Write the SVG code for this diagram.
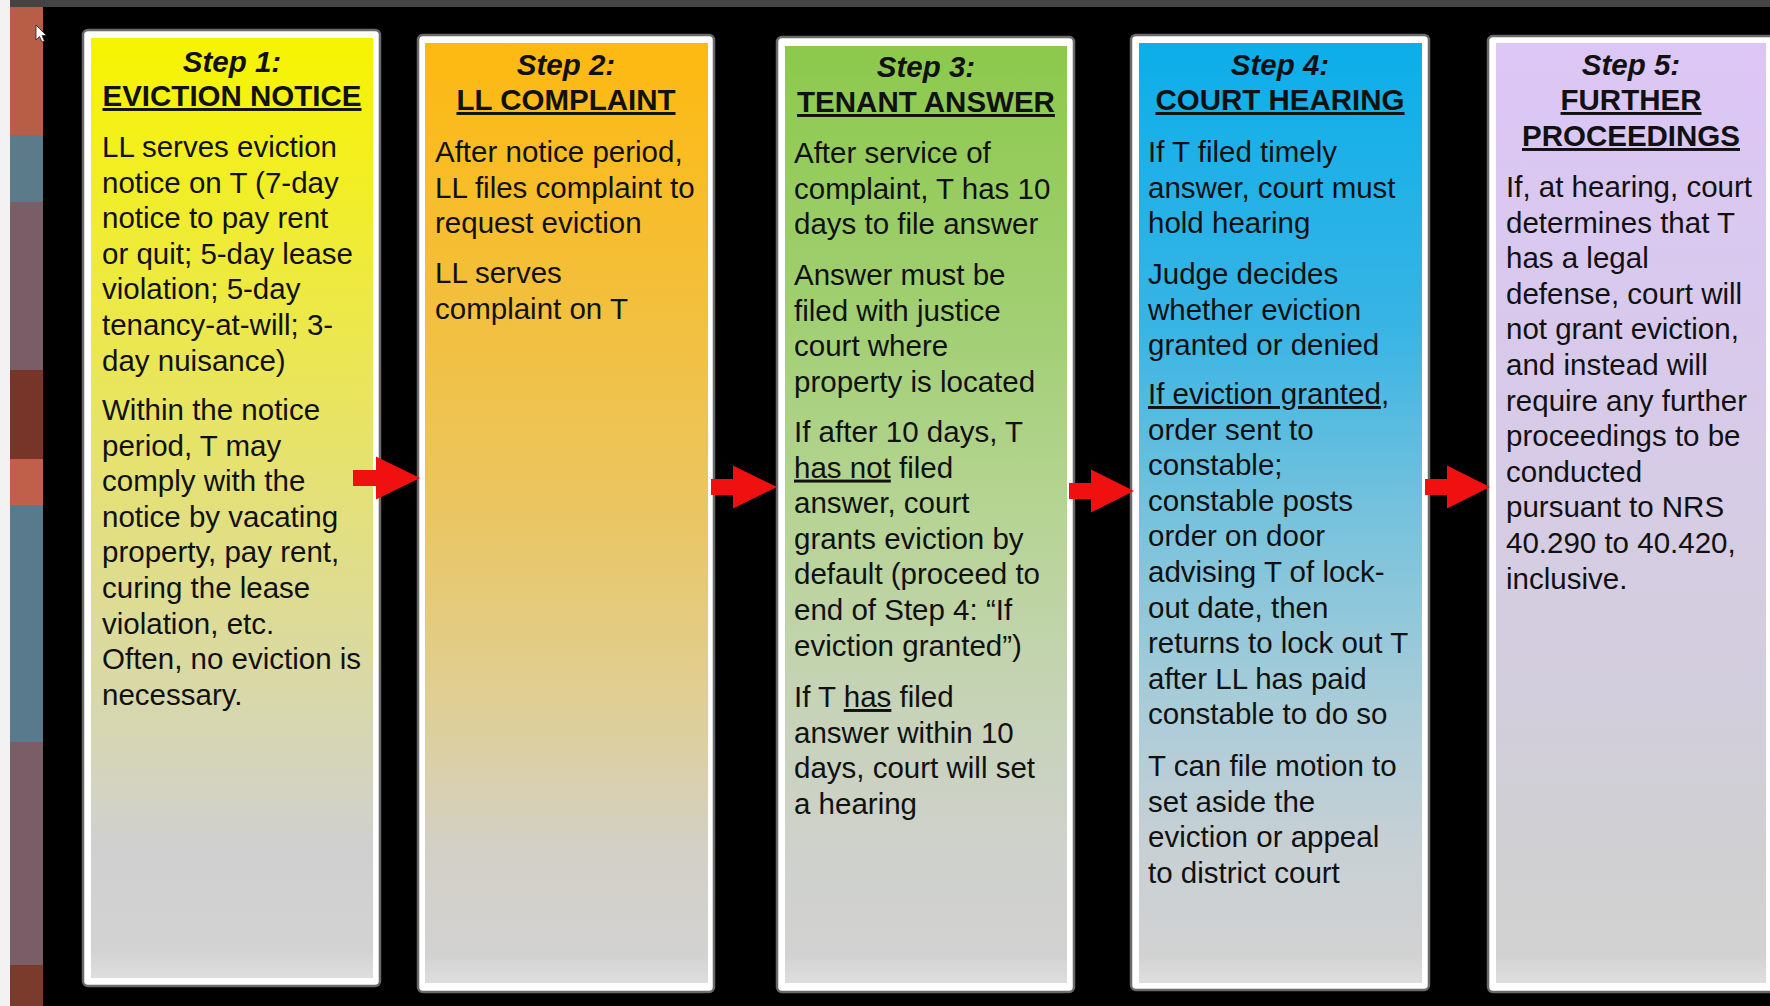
<svg xmlns="http://www.w3.org/2000/svg" width="1770" height="1006" viewBox="0 0 1770 1006">
<style>
.t{font-family:"Liberation Sans",Arial,Helvetica,sans-serif;font-size:29.5px;fill:#111}
.s{font-weight:bold;font-style:italic;text-anchor:middle}
.h{font-weight:bold;text-anchor:middle;text-decoration:underline}
.ul{text-decoration:underline}
.frame{fill:#ffffff;stroke:#6a6a6a;stroke-width:2.5}
.arrow{fill:#f01010}
</style>
<defs>
<linearGradient id="g1" x1="0" y1="0" x2="0" y2="1">
<stop offset="0" stop-color="#f7f400"/><stop offset="0.3" stop-color="#ece84a"/><stop offset="0.5" stop-color="#e3e07c"/><stop offset="0.7" stop-color="#d8d8aa"/><stop offset="0.86" stop-color="#d0d0d0"/><stop offset="0.97" stop-color="#d2d2d2"/><stop offset="1" stop-color="#dedede"/>
</linearGradient>
<linearGradient id="g2" x1="0" y1="0" x2="0" y2="1">
<stop offset="0" stop-color="#fdb910"/><stop offset="0.3" stop-color="#f2c040"/><stop offset="0.5" stop-color="#eac662"/><stop offset="0.7" stop-color="#dfcf94"/><stop offset="0.86" stop-color="#d2d0c6"/><stop offset="0.97" stop-color="#d2d2d2"/><stop offset="1" stop-color="#dedede"/>
</linearGradient>
<linearGradient id="g3" x1="0" y1="0" x2="0" y2="1">
<stop offset="0" stop-color="#8cc94c"/><stop offset="0.3" stop-color="#a2cf74"/><stop offset="0.5" stop-color="#b6d494"/><stop offset="0.7" stop-color="#c6d3b6"/><stop offset="0.86" stop-color="#cfd1cc"/><stop offset="0.97" stop-color="#d2d2d2"/><stop offset="1" stop-color="#dedede"/>
</linearGradient>
<linearGradient id="g4" x1="0" y1="0" x2="0" y2="1">
<stop offset="0" stop-color="#0caeea"/><stop offset="0.3" stop-color="#38b4e4"/><stop offset="0.5" stop-color="#76c2dc"/><stop offset="0.7" stop-color="#a8ccd8"/><stop offset="0.86" stop-color="#c8d0d4"/><stop offset="0.97" stop-color="#d2d2d2"/><stop offset="1" stop-color="#dedede"/>
</linearGradient>
<linearGradient id="g5" x1="0" y1="0" x2="0" y2="1">
<stop offset="0" stop-color="#dcc6f5"/><stop offset="0.3" stop-color="#d8c9ec"/><stop offset="0.5" stop-color="#d6cce4"/><stop offset="0.7" stop-color="#d2cedc"/><stop offset="0.86" stop-color="#d0d0d2"/><stop offset="0.97" stop-color="#d2d2d2"/><stop offset="1" stop-color="#dedede"/>
</linearGradient>
</defs>

<g id="background">
<rect x="0" y="0" width="1770" height="1006" fill="#000"/>
<rect x="0" y="0" width="10" height="1006" fill="#f2f2f2"/>
<rect x="10" y="0" width="1760" height="7" fill="#444"/>
<rect x="10" y="7" width="33" height="128" fill="#b95e46"/>
<rect x="10" y="135" width="33" height="67" fill="#5b7b8b"/>
<rect x="10" y="202" width="33" height="168" fill="#7b5d67"/>
<rect x="10" y="370" width="33" height="89" fill="#773529"/>
<rect x="10" y="459" width="33" height="46" fill="#c0604a"/>
<rect x="10" y="505" width="33" height="237" fill="#587a8c"/>
<rect x="10" y="742" width="33" height="223" fill="#7b5d68"/>
<rect x="10" y="965" width="33" height="41" fill="#7a3a2c"/>
<polygon points="36,25 36,40 39.5,36.5 42,42 44.5,41 42,35.5 46.5,35.5" fill="#fff" stroke="#222" stroke-width="0.8"/>
</g>

<g id="step1">
<rect class="frame" x="83" y="30" width="297" height="956" rx="5"/>
<rect x="91" y="38" width="282" height="940" fill="url(#g1)"/>
<text class="t s" x="232" y="72">Step 1:</text>
<text class="t h" x="232" y="106">EVICTION NOTICE</text>
<text class="t">
<tspan x="102" y="157">LL serves eviction</tspan>
<tspan x="102" y="192.6">notice on T (7-day</tspan>
<tspan x="102" y="228.2">notice to pay rent</tspan>
<tspan x="102" y="263.8">or quit; 5-day lease</tspan>
<tspan x="102" y="299.4">violation; 5-day</tspan>
<tspan x="102" y="335">tenancy-at-will; 3-</tspan>
<tspan x="102" y="370.6">day nuisance)</tspan>
</text>
<text class="t">
<tspan x="102" y="420">Within the notice</tspan>
<tspan x="102" y="455.6">period, T may</tspan>
<tspan x="102" y="491.2">comply with the</tspan>
<tspan x="102" y="526.8">notice by vacating</tspan>
<tspan x="102" y="562.4">property, pay rent,</tspan>
<tspan x="102" y="598">curing the lease</tspan>
<tspan x="102" y="633.6">violation, etc.</tspan>
<tspan x="102" y="669.2">Often, no eviction is</tspan>
<tspan x="102" y="704.8">necessary.</tspan>
</text>
</g>

<g id="step2">
<rect class="frame" x="418" y="35" width="296" height="957" rx="5"/>
<rect x="425" y="43" width="283" height="940" fill="url(#g2)"/>
<text class="t s" x="566" y="75">Step 2:</text>
<text class="t h" x="566" y="110">LL COMPLAINT</text>
<text class="t">
<tspan x="435" y="162">After notice period,</tspan>
<tspan x="435" y="197.6">LL files complaint to</tspan>
<tspan x="435" y="233.2">request eviction</tspan>
</text>
<text class="t">
<tspan x="435" y="283">LL serves</tspan>
<tspan x="435" y="318.6">complaint on T</tspan>
</text>
</g>

<g id="step3">
<rect class="frame" x="777" y="37" width="297" height="955" rx="5"/>
<rect x="785" y="46" width="282" height="937" fill="url(#g3)"/>
<text class="t s" x="926" y="77">Step 3:</text>
<text class="t h" x="926" y="112">TENANT ANSWER</text>
<text class="t">
<tspan x="794" y="163">After service of</tspan>
<tspan x="794" y="198.6">complaint, T has 10</tspan>
<tspan x="794" y="234.2">days to file answer</tspan>
</text>
<text class="t">
<tspan x="794" y="285">Answer must be</tspan>
<tspan x="794" y="320.6">filed with justice</tspan>
<tspan x="794" y="356.2">court where</tspan>
<tspan x="794" y="391.8">property is located</tspan>
</text>
<text class="t">
<tspan x="794" y="442">If after 10 days, T</tspan>
<tspan x="794" y="477.6"><tspan class="ul">has not</tspan> filed</tspan>
<tspan x="794" y="513.2">answer, court</tspan>
<tspan x="794" y="548.8">grants eviction by</tspan>
<tspan x="794" y="584.4">default (proceed to</tspan>
<tspan x="794" y="620">end of Step 4: “If</tspan>
<tspan x="794" y="655.6">eviction granted”)</tspan>
</text>
<text class="t">
<tspan x="794" y="707">If T <tspan class="ul">has</tspan> filed</tspan>
<tspan x="794" y="742.6">answer within 10</tspan>
<tspan x="794" y="778.2">days, court will set</tspan>
<tspan x="794" y="813.8">a hearing</tspan>
</text>
</g>

<g id="step4">
<rect class="frame" x="1131" y="35" width="298" height="955" rx="5"/>
<rect x="1139" y="43" width="283" height="940" fill="url(#g4)"/>
<text class="t s" x="1280" y="75">Step 4:</text>
<text class="t h" x="1280" y="110">COURT HEARING</text>
<text class="t">
<tspan x="1148" y="162">If T filed timely</tspan>
<tspan x="1148" y="197.6">answer, court must</tspan>
<tspan x="1148" y="233.2">hold hearing</tspan>
</text>
<text class="t">
<tspan x="1148" y="284">Judge decides</tspan>
<tspan x="1148" y="319.6">whether eviction</tspan>
<tspan x="1148" y="355.2">granted or denied</tspan>
</text>
<text class="t">
<tspan x="1148" y="404"><tspan class="ul">If eviction granted</tspan>,</tspan>
<tspan x="1148" y="439.6">order sent to</tspan>
<tspan x="1148" y="475.2">constable;</tspan>
<tspan x="1148" y="510.8">constable posts</tspan>
<tspan x="1148" y="546.4">order on door</tspan>
<tspan x="1148" y="582">advising T of lock-</tspan>
<tspan x="1148" y="617.6">out date, then</tspan>
<tspan x="1148" y="653.2">returns to lock out T</tspan>
<tspan x="1148" y="688.8">after LL has paid</tspan>
<tspan x="1148" y="724.4">constable to do so</tspan>
</text>
<text class="t">
<tspan x="1148" y="776">T can file motion to</tspan>
<tspan x="1148" y="811.6">set aside the</tspan>
<tspan x="1148" y="847.2">eviction or appeal</tspan>
<tspan x="1148" y="882.8">to district court</tspan>
</text>
</g>

<g id="step5">
<rect class="frame" x="1488" y="36" width="290" height="956" rx="5"/>
<rect x="1496" y="43" width="270" height="940" fill="url(#g5)"/>
<text class="t s" x="1631" y="75">Step 5:</text>
<text class="t h" x="1631" y="110">FURTHER</text>
<text class="t h" x="1631" y="146">PROCEEDINGS</text>
<text class="t">
<tspan x="1506" y="197">If, at hearing, court</tspan>
<tspan x="1506" y="232.6">determines that T</tspan>
<tspan x="1506" y="268.2">has a legal</tspan>
<tspan x="1506" y="303.8">defense, court will</tspan>
<tspan x="1506" y="339.4">not grant eviction,</tspan>
<tspan x="1506" y="375">and instead will</tspan>
<tspan x="1506" y="410.6">require any further</tspan>
<tspan x="1506" y="446.2">proceedings to be</tspan>
<tspan x="1506" y="481.8">conducted</tspan>
<tspan x="1506" y="517.4">pursuant to NRS</tspan>
<tspan x="1506" y="553">40.290 to 40.420,</tspan>
<tspan x="1506" y="588.6">inclusive.</tspan>
</text>
</g>

<g id="connectors">
<polygon class="arrow" points="353,470 376,470 376,456.5 420,478 376,499.5 376,486 353,486"/>
<polygon class="arrow" points="711,479 733,479 733,465.5 777,487 733,508.5 733,495 711,495"/>
<polygon class="arrow" points="1069,483 1091,483 1091,469.5 1134,491 1091,512.5 1091,499 1069,499"/>
<polygon class="arrow" points="1425,479 1447,479 1447,465.5 1490,487 1447,508.5 1447,495 1425,495"/>
</g>
</svg>
